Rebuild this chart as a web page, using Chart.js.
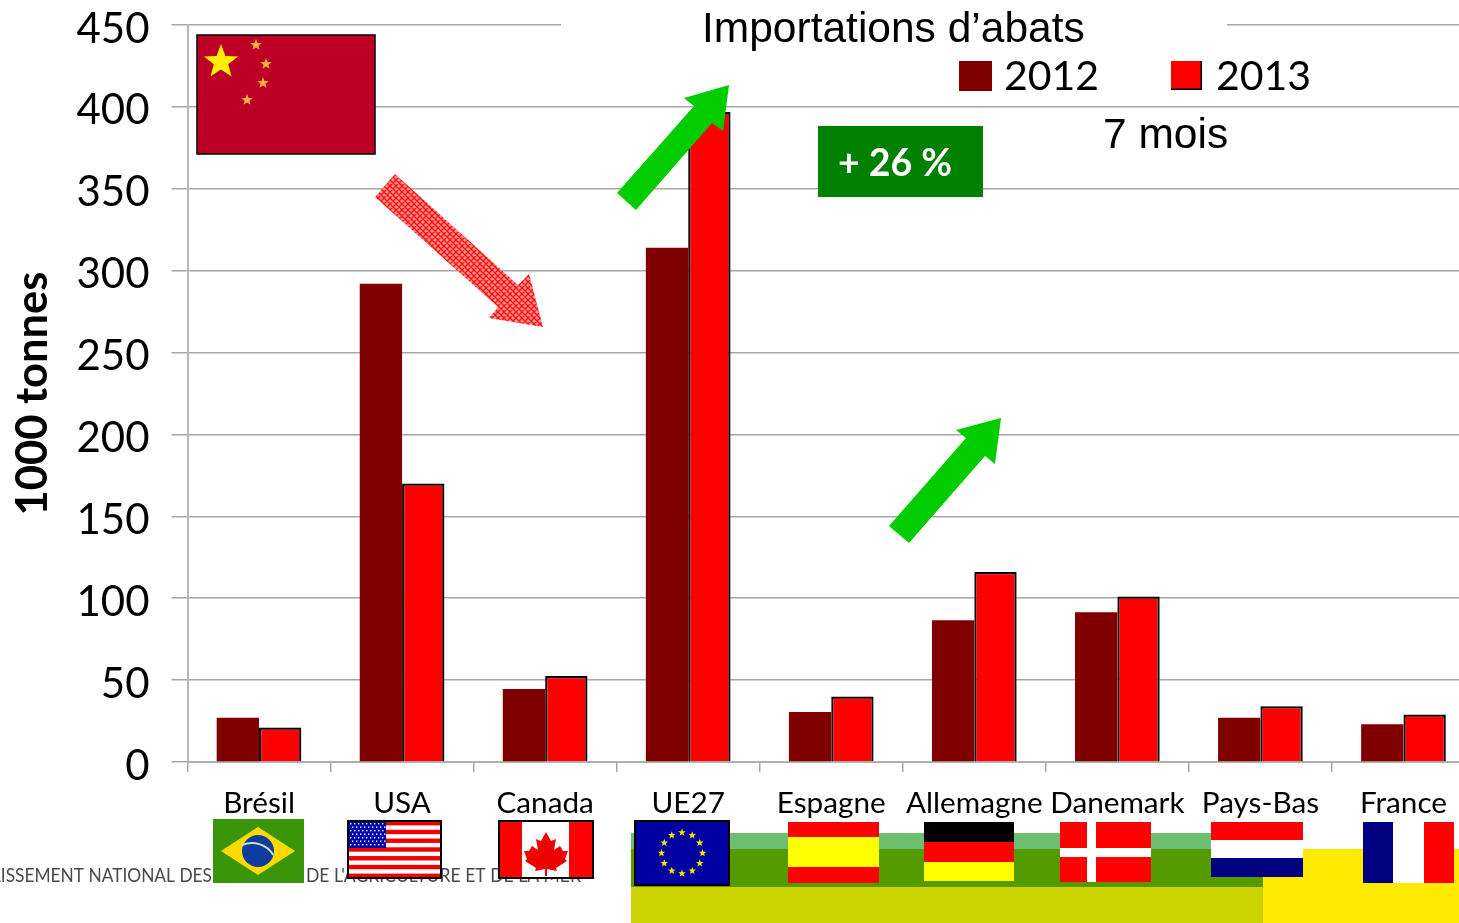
<!DOCTYPE html>
<html>
<head>
<meta charset="utf-8">
<style>
html, body { margin: 0; padding: 0; background: #fff; overflow: hidden; }
#wrap { width: 1459px; height: 923px; overflow: hidden; }
canvas { display: block; }
</style>
<script src="https://cdn.jsdelivr.net/npm/chart.js@4/dist/chart.umd.js"></script>
</head>
<body>
<div id="wrap"><canvas id="barChart" width="1480" height="923"></canvas></div>
<script>
const countries = ['Brésil', 'USA', 'Canada', 'UE27', 'Espagne', 'Allemagne', 'Danemark', 'Pays-Bas', 'France'];
const values2012 = [27, 292, 44.5, 314, 30.5, 86.5, 91.5, 27, 23];
const values2013 = [21, 170, 52.5, 397, 40, 116, 101, 34, 29];
const legendLabels = ['2012', '2013'];
const yTicksStep = 50;
const yMax = 450;

const darkRed = '#800000';
const brightRed = '#ff0000';
const sans = '"Liberation Sans", Arial, sans-serif';
const lato = 'Lato, sans-serif';

function star(ctx, cx, cy, r, color, rot) {
    ctx.beginPath();
    for (let i = 0; i < 10; i++) {
        const rad = i % 2 ? r * 0.42 : r;
        const a = -Math.PI / 2 + (rot || 0) + i * Math.PI / 5;
        ctx.lineTo(cx + rad * Math.cos(a), cy + rad * Math.sin(a));
    }
    ctx.closePath();
    ctx.fillStyle = color;
    ctx.fill();
}

function poly(ctx, points, fill) {
    ctx.beginPath();
    points.forEach(p => ctx.lineTo(p[0], p[1]));
    ctx.closePath();
    ctx.fillStyle = fill;
    ctx.fill();
}

function rect(ctx, x, y, w, h, color) {
    ctx.fillStyle = color;
    ctx.fillRect(x, y, w, h);
}

function text(ctx, str, x, y, font, color, align, maxWidth) {
    ctx.font = font;
    ctx.fillStyle = color;
    ctx.textAlign = align || 'left';
    ctx.textBaseline = 'alphabetic';
    if (maxWidth) ctx.fillText(str, x, y, maxWidth);
    else ctx.fillText(str, x, y);
}

function hatchPattern(ctx) {
    const c = document.createElement('canvas');
    c.width = 6;
    c.height = 6;
    const p = c.getContext('2d');
    p.fillStyle = '#ff8f8f';
    p.fillRect(0, 0, 6, 6);
    p.strokeStyle = '#ff0c0c';
    p.lineWidth = 1.3;
    p.beginPath();
    p.moveTo(-1, -1); p.lineTo(7, 7);
    p.moveTo(-1, 5); p.lineTo(1, 7);
    p.moveTo(5, -1); p.lineTo(7, 1);
    p.moveTo(7, -1); p.lineTo(-1, 7);
    p.moveTo(1, -1); p.lineTo(-1, 1);
    p.moveTo(7, 5); p.lineTo(5, 7);
    p.stroke();
    return ctx.createPattern(c, 'repeat');
}

// bande du bas de la diapo + texte du pied de page
function drawFooter(ctx) {
    rect(ctx, 631, 833, 604, 16, '#6cbf70');
    rect(ctx, 631, 849, 632, 38, '#559a00');
    rect(ctx, 631, 887, 632, 36, '#cbd300');
    rect(ctx, 1263, 849, 196, 74, '#ffeb00');
    text(ctx, 'ÉTABLISSEMENT NATIONAL DES', 212, 882, '19px ' + lato, '#4a4a4a', 'right', 262);
    text(ctx, 'DE L\'AGRICULTURE ET DE LA MER', 306, 882, '19px ' + lato, '#4a4a4a', 'left', 275);
}

function drawFlags(ctx) {
    // Chine
    rect(ctx, 197, 35, 178, 119, '#bd0026');
    star(ctx, 221, 62, 18, '#ffee00');
    star(ctx, 256, 45, 6, '#ffb040');
    star(ctx, 266, 64, 6, '#ffb040');
    star(ctx, 263, 83, 6, '#ffb040');
    star(ctx, 247, 100, 6, '#ffb040');
    ctx.strokeStyle = '#000';
    ctx.lineWidth = 1.5;
    ctx.strokeRect(197, 35, 178, 119);

    // Brésil
    rect(ctx, 213, 819, 91, 64, '#3a9508');
    poly(ctx, [[221, 851], [258, 827], [295, 851], [258, 875]], '#ffd900');
    ctx.beginPath();
    ctx.ellipse(258, 851, 16, 16, 0, 0, Math.PI * 2);
    ctx.fillStyle = '#0b3d9c';
    ctx.fill();
    ctx.beginPath();
    ctx.arc(252, 868, 25, -2.0, -0.55);
    ctx.strokeStyle = '#cfe0c0';
    ctx.lineWidth = 2;
    ctx.stroke();

    // USA
    rect(ctx, 348, 821, 93, 57, '#fff');
    for (let i = 0; i < 13; i += 2) rect(ctx, 348, 821 + i * 57 / 13, 93, 57 / 13, '#f00000');
    rect(ctx, 348, 821, 38, 27, '#0000a8');
    ctx.fillStyle = '#fff';
    for (let r = 0; r < 7; r++) {
        for (let c = 0; c < 9; c++) {
            ctx.fillRect(350 + c * 4 + (r % 2) * 2, 823 + r * 3.5, 1.4, 1.4);
        }
    }
    ctx.strokeStyle = '#000';
    ctx.lineWidth = 2;
    ctx.strokeRect(348, 821, 93, 57);

    // Canada
    rect(ctx, 499, 821, 94, 57, '#fff');
    rect(ctx, 499, 821, 23, 57, '#ff0000');
    rect(ctx, 569, 821, 24, 57, '#ff0000');
    poly(ctx, [[546, 832], [551, 841], [556, 839], [554, 850], [560, 846], [563, 851], [568, 851], [565, 859], [567, 861],
        [556, 868], [557, 871], [547, 869], [547, 876], [545, 876], [545, 869], [535, 871], [536, 868], [525, 861], [527, 859],
        [524, 851], [529, 851], [532, 846], [538, 850], [536, 839], [541, 841]], '#ee0000');
    ctx.strokeStyle = '#000';
    ctx.lineWidth = 2;
    ctx.strokeRect(499, 821, 94, 57);

    // UE
    rect(ctx, 635, 821, 94, 64, '#0000a0');
    for (let i = 0; i < 12; i++) {
        const a = i * Math.PI / 6;
        star(ctx, 682 + 20.5 * Math.cos(a), 853 + 20.5 * Math.sin(a), 4, '#ffe000');
    }
    ctx.strokeStyle = '#000';
    ctx.lineWidth = 2;
    ctx.strokeRect(635, 821, 94, 64);

    // Espagne
    rect(ctx, 788, 822, 91, 61, '#ff0000');
    rect(ctx, 788, 837, 91, 30, '#ffff00');

    // Allemagne
    rect(ctx, 924, 822, 90, 20, '#000');
    rect(ctx, 924, 842, 90, 20, '#ff0000');
    rect(ctx, 924, 862, 90, 19, '#ffff00');

    // Danemark
    rect(ctx, 1060, 822, 91, 60, '#ff0000');
    rect(ctx, 1087, 822, 9, 60, '#fff');
    rect(ctx, 1060, 848, 91, 9, '#fff');

    // Pays-Bas
    rect(ctx, 1211, 822, 92, 18, '#ff0000');
    rect(ctx, 1211, 840, 92, 18, '#fff');
    rect(ctx, 1211, 858, 92, 19, '#000080');

    // France
    rect(ctx, 1363, 822, 30, 61, '#000080');
    rect(ctx, 1393, 822, 31, 61, '#fff');
    rect(ctx, 1424, 822, 30, 61, '#ff0000');
}

function drawArrows(ctx) {
    poly(ctx, [[729, 85], [684, 98], [694, 106], [617, 193], [636, 210], [712, 123], [723, 131]], '#00cc00');
    poly(ctx, [[1001, 418], [956, 430], [966, 438], [889, 526], [909, 543], [985, 456], [995, 464]], '#00cc00');
    poly(ctx, [[395, 174], [375, 197], [498, 307], [489, 318], [543, 327], [529, 274], [518, 285]], hatchPattern(ctx));
}

const decorations = {
    id: 'decorations',
    afterDraw(chart) {
        const ctx = chart.ctx;
        ctx.save();
        // le cadre du titre cache le haut de la grille
        rect(ctx, 561, 15, 666, 20, '#fff');
        drawFooter(ctx);
        drawFlags(ctx);
        drawArrows(ctx);

        text(ctx, 'Importations d\u2019abats', 702, 42, '42.5px ' + sans, '#000');
        text(ctx, '7 mois', 1103, 148, '42.5px ' + sans, '#000');

        rect(ctx, 818, 126, 165, 71, '#008000');
        text(ctx, '+ 26 %', 895, 176, 'bold 37.5px ' + lato, '#fff', 'center');

        // légende
        rect(ctx, 959, 61, 33, 30, darkRed);
        text(ctx, legendLabels[0], 1004, 90, '41px ' + lato, '#000');
        rect(ctx, 1171, 61, 31, 29, '#000');
        rect(ctx, 1171, 61, 29.5, 27.5, brightRed);
        text(ctx, legendLabels[1], 1216, 90, '41px ' + lato, '#000');
        ctx.restore();
    }
};

const chart = new Chart(document.getElementById('barChart'), {
    type: 'bar',
    data: {
        labels: countries,
        datasets: [
            { label: legendLabels[0], data: values2012, backgroundColor: darkRed, borderWidth: 0 },
            { label: legendLabels[1], data: values2013, backgroundColor: brightRed, borderColor: '#000', borderWidth: 2.2, borderSkipped: 'bottom' },
        ],
    },
    options: {
        responsive: false,
        animation: false,
        layout: { padding: { top: 25, right: 5, left: 0, bottom: 0 } },
        datasets: { bar: { categoryPercentage: 0.592, barPercentage: 1 } },
        plugins: { legend: { display: false }, tooltip: { enabled: false } },
        scales: {
            x: {
                afterFit: s => { s.height = 161; },
                grid: { drawOnChartArea: false, tickLength: 10, color: '#a6a6a6', lineWidth: 1.5 },
                border: { color: '#b0b0b0', width: 2 },
                ticks: {
                    autoSkip: false,
                    maxRotation: 0,
                    color: '#000',
                    padding: 14,
                    font: { family: 'Lato', size: 29.7 },
                },
            },
            y: {
                min: 0,
                max: yMax,
                afterFit: s => { s.width = 187.5; s.paddingTop = 0; s.paddingBottom = 0; },
                grid: { tickLength: 16, color: '#a6a6a6', lineWidth: 1.5 },
                border: { color: '#b8b8b8', width: 2 },
                title: {
                    display: true,
                    text: '1000 tonnes',
                    color: '#000',
                    padding: { top: 6.5, bottom: 0 },
                    font: { family: 'Lato', size: 43.5, weight: 'bold' },
                },
                ticks: {
                    stepSize: yTicksStep,
                    color: '#000',
                    padding: 22,
                    // ligne vide + petit interligne : descend le libellé de 4px sous le trait
                    callback: v => ['', String(v)],
                    font: { family: 'Lato', size: 42, lineHeight: 8 / 42 },
                },
            },
        },
    },
    plugins: [decorations],
});
</script>
</body>
</html>
